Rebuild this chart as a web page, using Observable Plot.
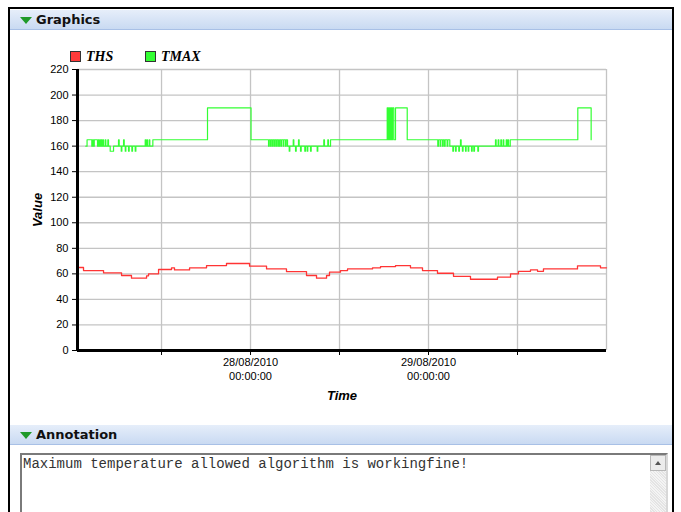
<!DOCTYPE html>
<html>
<head>
<meta charset="utf-8">
<script src="https://cdn.jsdelivr.net/npm/d3@7"></script>
<script src="https://cdn.jsdelivr.net/npm/@observablehq/plot@0.6"></script>
<style>
  html, body { margin: 0; padding: 0; background: #fff; }
  body { width: 681px; height: 512px; position: relative; overflow: hidden; }
  .frame { position: absolute; left: 8px; top: 7px; width: 662px; height: 520px; border: 2px solid #000; border-bottom: none; }
  .hdr { position: absolute; left: 10px; width: 662px; height: 20px;
         background: linear-gradient(#e6eefa, #c9daf2); border-bottom: 1px solid #a8c0e6;
         font: bold 13px "DejaVu Sans", sans-serif; color: #111; line-height: 20px; padding-left: 26px; box-sizing: border-box; }
  .tri { position: absolute; left: 10px; top: 7px; width: 0; height: 0;
         border-left: 6px solid transparent; border-right: 6px solid transparent; border-top: 7px solid #1f9a2a; }
  #chart { position: absolute; left: 0; top: 0; }
  .legend { position: absolute; top: 49px; font: italic bold 14px "Liberation Serif", serif; }
  .legend span.sw { display: inline-block; width: 9px; height: 9px; border: 1px solid #333; vertical-align: -1px; margin-right: 5px; }
  .ta { position: absolute; left: 20px; top: 453px; width: 648px; height: 80px; box-sizing: border-box;
        border: 2px solid #7a7a7a; border-right-color: #d8d8d8; background: #fff;
        font: 14px "Liberation Mono", monospace; padding: 1px 0 0 1px; color: #333; }
  .sb { position: absolute; right: 0; top: 0; width: 16px; height: 100%; background: repeating-linear-gradient(45deg, #e4e4e4 0 1px, #f4f4f4 1px 2px); }
  .sbbtn { position: absolute; left: 0; top: 0; width: 16px; height: 16px; box-sizing: border-box; background: #ececec; border: 1px solid #b8b8b8; }
  .sbbtn:after { content: ""; position: absolute; left: 4px; top: 5px; border-left: 3px solid transparent; border-right: 3px solid transparent; border-bottom: 4px solid #555; }
</style>
</head>
<body>
<div class="frame"></div>
<div class="hdr" style="top:10px"><span class="tri"></span>Graphics</div>
<div id="chart"></div>
<div class="legend" style="left:70px"><span class="sw" style="background:#ff3b3b"></span>THS</div>
<div class="legend" style="left:145px"><span class="sw" style="background:#33ff33"></span>TMAX</div>
<div class="hdr" style="top:425px"><span class="tri"></span>Annotation</div>
<div class="ta">Maximum temperature allowed algorithm is workingfine!<div class="sb"><div class="sbbtn"></div></div></div>
<script>
// hours counted from 27/08/2010 00:00
const thsHours  = [0.67, 1.48, 4.18, 6.61, 7.95, 9.98, 10.25, 11.60, 13.35, 13.75, 15.78, 18.07, 20.76, 23.87, 26.16, 28.85, 31.55, 32.90, 34.25, 34.65, 36.13, 37.08, 40.45, 41.53, 43.55, 45.57, 47.19, 49.21, 51.37, 53.66, 57.30, 59.06, 60.13, 61.75, 62.70, 63.50, 68.09, 71.19, 72.0];
const thsValues = [65, 62.6, 60.8, 58.7, 56.6, 58.5, 60, 63.4, 64.7, 63.1, 64.7, 66.5, 68.1, 66, 63.9, 61.8, 58.7, 56.6, 58.7, 61.3, 62.6, 63.9, 64.7, 65.7, 66.5, 64.7, 62.6, 60.5, 58.1, 55.8, 57.4, 60, 62, 63.1, 62, 63.9, 66.3, 64.7, 64.7];

const tmaxHours = [
  1.79, 1.96, 2.60, 2.70, 2.83, 2.93, 3.37, 3.47, 3.57, 3.68, 3.78, 3.87, 3.98, 4.09, 4.18, 4.41, 4.49, 4.76, 4.85, 5.08, 5.53,
  6.20, 6.29, 6.57, 6.65, 6.88, 6.97, 7.11, 7.19, 7.55, 7.64, 8.00, 8.09, 8.45, 8.54, 9.80, 9.88, 10.02, 10.11, 10.34, 10.42, 10.83,
  18.20, 24.07,
  26.43, 26.52, 26.70, 26.79, 26.97, 27.06, 27.24, 27.33, 27.51, 27.60, 27.78, 27.91, 28.09, 28.18, 28.41, 28.49, 28.72, 28.81, 28.99,
  29.22, 29.30, 29.76, 29.84, 30.07, 30.16, 30.47, 30.56, 30.74, 30.83, 31.32, 31.41, 31.64, 31.72, 32.09, 32.18, 32.99, 33.07,
  33.88, 33.97, 34.42, 34.51, 34.79,
  42.43, 42.52, 42.61, 42.70, 42.79, 42.88, 42.97, 43.05, 43.14, 43.32, 43.55, 45.13,
  49.25, 49.34, 49.57, 49.65, 49.89, 49.97, 50.15, 50.24, 50.51, 50.60, 50.87, 51.28, 51.37, 51.64, 51.73, 52.08, 52.17, 52.31, 52.40,
  52.57, 52.66, 52.99, 53.07, 53.35, 53.43, 53.80, 53.89, 54.11, 54.20, 54.65, 54.74,
  57.03, 57.12, 57.39, 57.48, 57.75, 57.84, 58.07, 58.15, 58.48, 58.57, 58.70, 58.79, 59.02,
  68.13, 69.93];
const tmaxValues = [
  160, 165, 160, 165, 160, 165, 160, 165, 160, 165, 160, 165, 160, 165, 160, 165, 160, 165, 160, 156, 160,
  165, 160, 156, 160, 165, 160, 156, 160, 156, 160, 156, 160, 156, 160, 165, 160, 165, 160, 165, 160, 165,
  190, 165,
  160, 165, 160, 165, 160, 165, 160, 165, 160, 165, 160, 165, 160, 165, 160, 165, 160, 165, 160,
  156, 160, 165, 160, 156, 160, 165, 160, 156, 160, 156, 160, 156, 160, 156, 160, 156, 160,
  165, 160, 165, 160, 165,
  190, 165, 190, 165, 190, 165, 190, 165, 190, 165, 190, 165,
  160, 165, 160, 165, 160, 165, 160, 165, 160, 165, 160, 156, 160, 156, 160, 156, 160, 165, 160,
  156, 160, 156, 160, 156, 160, 156, 160, 156, 160, 156, 160,
  165, 160, 165, 160, 165, 160, 165, 160, 165, 160, 165, 160, 165,
  190, 165];

const xTickHours = [12, 24, 36, 48, 60];
const xGridHours = [12, 24, 36, 48, 60, 72];
const xDomainHours = [0.67, 72];
const yTicks = [0, 20, 40, 60, 80, 100, 120, 140, 160, 180, 200, 220];
const xLabel = "Time";
const yLabel = "Value";

const base = Date.UTC(2010, 7, 27);
const toDate = h => new Date(base + h * 3600e3);
const ths = thsHours.map((h, i) => ({t: toDate(h), v: thsValues[i]}));
const tmax = tmaxHours.map((h, i) => ({t: toDate(h), v: tmaxValues[i]}));
const xTicks = xTickHours.map(toDate);
const xGrid = xGridHours.map(toDate);
const x0 = toDate(xDomainHours[0]);
const pad = n => String(n).padStart(2, "0");
const dateLine = d => d.getUTCHours() === 0 ? `${pad(d.getUTCDate())}/${pad(d.getUTCMonth() + 1)}/${d.getUTCFullYear()}` : "";
const timeLine = d => d.getUTCHours() === 0 ? `${pad(d.getUTCHours())}:${pad(d.getUTCMinutes())}:${pad(d.getUTCSeconds())}` : "";

const chart = Plot.plot({
  width: 681, height: 420,
  marginLeft: 77, marginRight: 75, marginTop: 69, marginBottom: 70,
  style: {background: "transparent", fontFamily: "Liberation Sans, Arial, sans-serif", fontSize: "11px", color: "#000"},
  x: {type: "utc", domain: xDomainHours.map(toDate)},
  y: {domain: [0, 220]},
  marks: [
    Plot.gridY(yTicks, {stroke: "#c4c4c4", strokeOpacity: 1, strokeWidth: 1.3}),
    Plot.gridX(xGrid, {stroke: "#c4c4c4", strokeOpacity: 1, strokeWidth: 1.3}),
    Plot.line(ths, {x: "t", y: "v", stroke: "#ff3434", strokeWidth: 1.3, curve: "step-after"}),
    Plot.line(tmax, {x: "t", y: "v", stroke: "#33ff33", strokeWidth: 1.2, curve: "step-after"}),
    Plot.axisY(yTicks, {tickSize: 5, tickPadding: 4, label: null}),
    Plot.axisX(xTicks, {tickSize: 5, tickPadding: 3, tickFormat: dateLine, label: null}),
    Plot.axisX(xTicks, {tickSize: 0, tickPadding: 22, tickFormat: timeLine, label: null}),
    Plot.ruleX([x0], {stroke: "#000", strokeWidth: 3}),
    Plot.ruleY([0], {stroke: "#000", strokeWidth: 3}),
    Plot.text([yLabel], {frameAnchor: "left", dx: -40, rotate: -90, textAnchor: "middle", fontSize: 13, fontWeight: "bold", fontStyle: "italic", fill: "#000"}),
    Plot.text([xLabel], {frameAnchor: "bottom", dy: 45, lineAnchor: "middle", fontSize: 13, fontWeight: "bold", fontStyle: "italic", fill: "#000"})
  ]
});
document.getElementById("chart").appendChild(chart);
</script>
</body>
</html>
